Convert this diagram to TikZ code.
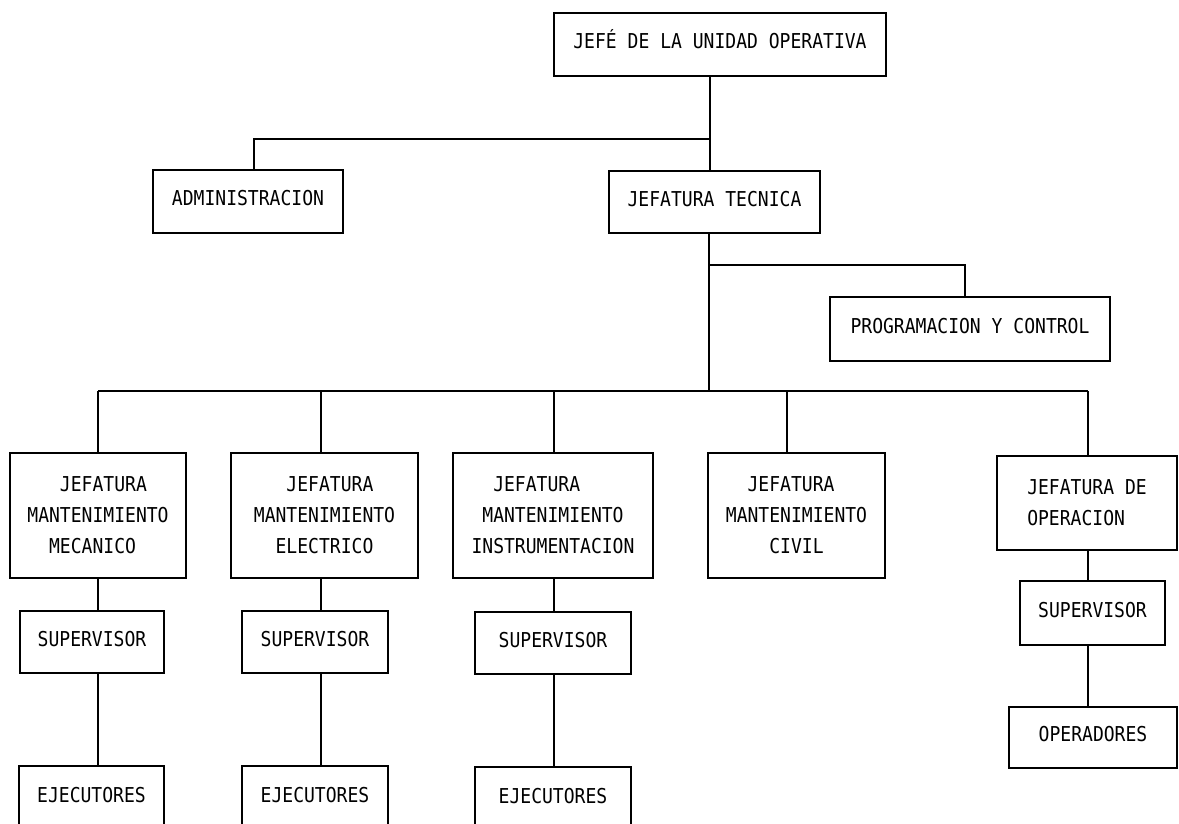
\documentclass[tikz,border=0pt]{standalone}
\usepackage{fontspec}
\newfontfamily\plotter[FakeStretch=0.88]{DejaVu Sans Mono}
\newcommand{\chsp}{\phantom{0}}
\begin{document}
\begin{tikzpicture}[x=1pt,y=-1pt,
  box/.style={draw, line width=1.1pt, inner sep=0pt, font=\plotter\fontsize{20.5}{31}\selectfont},
  one/.style={box, text height=15pt, text depth=7pt},
  multi/.style={box, align=left},
  conn/.style={line width=1.1pt}]
\clip (0,0) rectangle (1179,823);
\fill[white] (0,0) rectangle (1179,823);
% top level
\node[one, minimum width=332pt, minimum height=63pt] (jefe) at (720,44.5) {JEFÉ DE LA UNIDAD OPERATIVA};
\node[one, minimum width=190pt, minimum height=63pt] (admin) at (248,201.5) {ADMINISTRACION};
\node[one, minimum width=211pt, minimum height=62pt] (jt) at (714.5,202) {JEFATURA TECNICA};
\node[one, minimum width=280pt, minimum height=64pt] (prog) at (970,329) {PROGRAMACION Y CONTROL};
% jefaturas
\node[multi, minimum width=176pt, minimum height=125pt] (m1) at (98,515.5) {\chsp\chsp\chsp JEFATURA\\MANTENIMIENTO\\\chsp\chsp MECANICO};
\node[multi, minimum width=187pt, minimum height=125pt] (m2) at (324.5,515.5) {\chsp\chsp\chsp JEFATURA\\MANTENIMIENTO\\\chsp\chsp ELECTRICO};
\node[multi, minimum width=200pt, minimum height=125pt] (m3) at (553,515.5) {\chsp\chsp JEFATURA\\\chsp MANTENIMIENTO\\INSTRUMENTACION};
\node[multi, minimum width=177pt, minimum height=125pt] (m4) at (796.5,515.5) {\chsp\chsp JEFATURA\\MANTENIMIENTO\\\chsp\chsp\chsp\chsp CIVIL};
\node[multi, minimum width=180pt, minimum height=94pt] (m5) at (1087,503) {JEFATURA DE\\OPERACION};
% supervisors
\node[one, minimum width=144pt, minimum height=62pt] (s1) at (92,642) {SUPERVISOR};
\node[one, minimum width=146pt, minimum height=62pt] (s2) at (315,642) {SUPERVISOR};
\node[one, minimum width=156pt, minimum height=62pt] (s3) at (553,643) {SUPERVISOR};
\node[one, minimum width=145pt, minimum height=64pt] (s5) at (1092.5,613) {SUPERVISOR};
% ejecutores / operadores
\node[one, minimum width=145pt, minimum height=64pt] (e1) at (91.5,798) {EJECUTORES};
\node[one, minimum width=146pt, minimum height=64pt] (e2) at (315,798) {EJECUTORES};
\node[one, minimum width=156pt, minimum height=64pt] (e3) at (553,799) {EJECUTORES};
\node[one, minimum width=168pt, minimum height=61pt] (op) at (1093,737.5) {OPERADORES};
% junction coordinates
\coordinate (b1) at (710,139);
\coordinate (b1l) at (254,139);
\coordinate (b2) at (709,265);
\coordinate (b2r) at (965,265);
\coordinate (b3) at (709,391);
\coordinate (d1) at (98,391);
\coordinate (d2) at (321,391);
\coordinate (d3) at (554,391);
\coordinate (d4) at (787,391);
\coordinate (d5) at (1088,391);
% connectors
\draw[conn] (jefe.south -| b1) -- (jt.north -| b1);
\draw[conn] (b1) -- (b1l) -- (admin.north -| b1l);
\draw[conn] (jt.south -| b3) -- (b3);
\draw[conn] (b2) -- (b2r) -- (prog.north -| b2r);
\draw[conn] (d1) -- (d5);
\draw[conn] (d1) -- (m1.north -| d1);
\draw[conn] (d2) -- (m2.north -| d2);
\draw[conn] (d3) -- (m3.north -| d3);
\draw[conn] (d4) -- (m4.north -| d4);
\draw[conn] (d5) -- (m5.north -| d5);
\draw[conn] (m1.south -| d1) -- (s1.north -| d1);
\draw[conn] (s1.south -| d1) -- (e1.north -| d1);
\draw[conn] (m2.south -| d2) -- (s2.north -| d2);
\draw[conn] (s2.south -| d2) -- (e2.north -| d2);
\draw[conn] (m3.south -| d3) -- (s3.north -| d3);
\draw[conn] (s3.south -| d3) -- (e3.north -| d3);
\draw[conn] (m5.south -| d5) -- (s5.north -| d5);
\draw[conn] (s5.south -| d5) -- (op.north -| d5);
\end{tikzpicture}
\end{document}
